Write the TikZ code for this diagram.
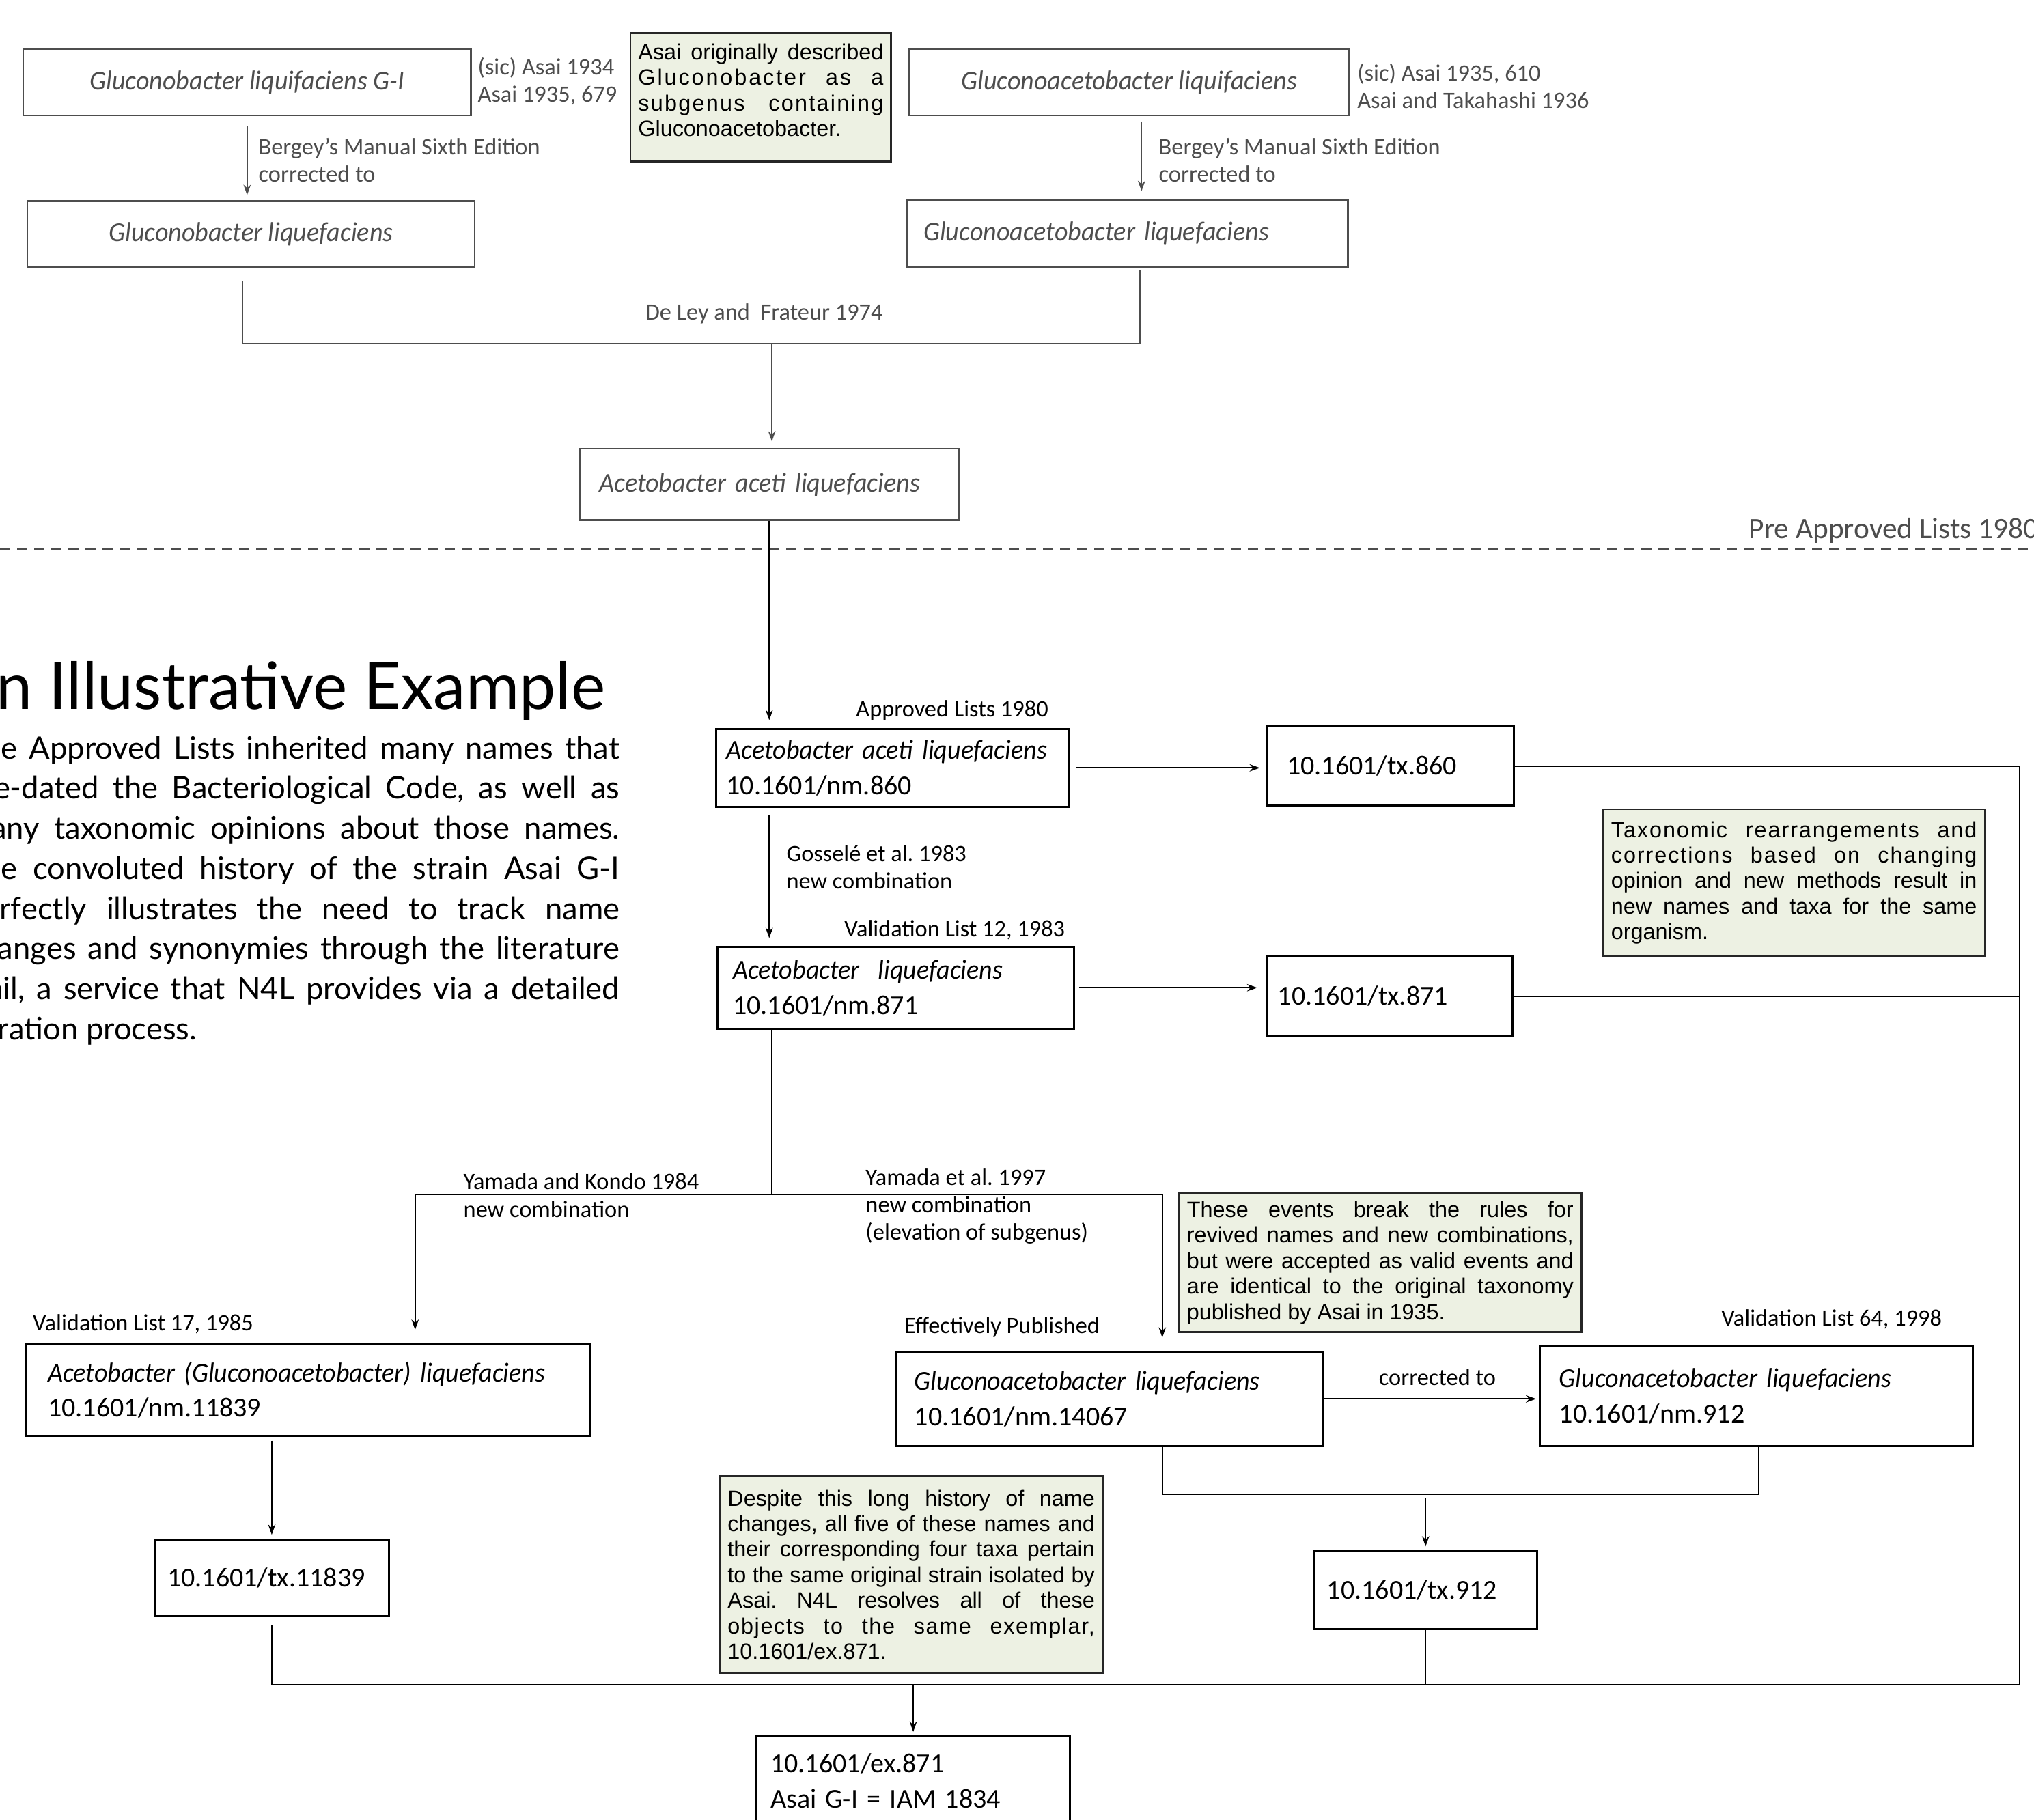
\documentclass[tikz,border=0pt]{standalone}
\usepackage{fontspec}
\setmainfont{Carlito}[ItalicFeatures={FakeStretch=0.95}]
\newfontfamily\parafont{Lato}
\newfontfamily\notefont{Liberation Sans}
\usetikzlibrary{arrows.meta, positioning, calc}
\definecolor{oldgray}{HTML}{4D4D4D}
\definecolor{notebg}{HTML}{EDF1E3}
\frenchspacing
\newcommand{\spread}[2]{{\addfontfeature{LetterSpace=#1}#2}}
\tikzset{
  oldbox/.style={draw=oldgray, line width=0.75pt, text=oldgray, inner sep=0pt,
    font=\fontsize{12}{15.4}\selectfont\itshape},
  nmbox/.style={draw=black, line width=0.9pt, inner ysep=0pt, align=left,
    font=\fontsize{12}{15.4}\selectfont},
  notebox/.style={draw=black!85, fill=notebg, line width=0.8pt, inner ysep=0pt,
    inner xsep=1.2mm, align=justify, font=\notefont\fontsize{9.7}{11.2}\selectfont},
  lbl/.style={inner sep=0pt, align=left, font=\fontsize{10.3}{12}\selectfont},
  oldlbl/.style={lbl, text=oldgray},
  link/.style={line width=0.6pt},
}

\begin{document}
\begin{tikzpicture}[>={Stealth[length=4.5pt, width=3.2pt]}, x=0.2mm, y=-0.2mm]
    \path[fill=white, use as bounding box] (0,0) rectangle (1568,1403);
    \node[oldbox, minimum width=69mm, minimum height=10.2mm] (gA) at (190.5,63.5)
      {Gluconobacter liquifaciens G-I};
    \node[oldbox, minimum width=67.8mm, minimum height=10.2mm] (gB) at (870.5,63.5)
      {Gluconoacetobacter liquifaciens};
    \node[oldbox, minimum width=69mm, minimum height=10.2mm] (gC) at (193.5,180.5)
      {Gluconobacter liquefaciens};
    \node[oldbox, align=left, text width=62.8mm, inner xsep=2.6mm, minimum height=10.4mm]
      (gD) at (869,180) {Gluconoacetobacter liquefaciens};
    \node[oldbox, align=left, text width=52.4mm, inner xsep=3mm, minimum height=11mm]
      (gE) at (593,373.5) {Acetobacter aceti liquefaciens};
    \node[oldlbl, anchor=west] (sicA) at (368,62.5) {(sic) Asai 1934\\Asai 1935, 679};
    \node[oldlbl, anchor=west] (sicB) at (1046,66.5) {(sic) Asai 1935, 610\\Asai and Takahashi 1936};
    \node[oldlbl, anchor=west] (bergA) at (199,123.5) {Bergey's Manual Sixth Edition\\corrected to};
    \node[oldlbl, anchor=west] (bergB) at (893,123.5) {Bergey's Manual Sixth Edition\\corrected to};
    \node[oldlbl] (deley) at (589,242) {De Ley and~ Frateur 1974};
    \node[notebox, text width=37.8mm, inner ysep=1.6mm, text depth=40pt, anchor=north]
      (noteA) at (586.5,25)
      {Asai originally described\linebreak \spread{9}{Gluconobacter as a}\linebreak
       \spread{7}{subgenus containing}\linebreak Gluconoacetobacter.};
    \coordinate (arB) at ([xshift=1.9mm]gB.south);
    \draw[->, link, oldgray, shorten <=1.6mm, shorten >=0.8mm] (gA.south) -- (gA.south |- gC.north);
    \draw[->, link, oldgray, shorten <=0.8mm, shorten >=1.2mm] (arB) -- (arB |- gD.north);
    \coordinate (joinA) at (187,265);
    \coordinate (joinB) at (879,265);
    \coordinate (joinE) at (595,265);
    \draw[link, oldgray, shorten <=2mm, shorten >=0.4mm]
      (gC.south -| joinA) -- (joinA) -- (joinB) -- (gD.south -| joinB);
    \draw[->, link, oldgray, shorten >=1mm] (joinE) -- (joinE |- gE.north);

    \coordinate (sepL) at (0,423);
    \coordinate (sepR) at (1568,423);
    \draw[oldgray, line width=1.1pt, dash pattern=on 4.5pt off 3pt] (sepL) -- (sepR);
    \node[oldlbl, font=\fontsize{13}{16}\selectfont, anchor=base west] (pre) at (1348,415)
      {Pre Approved Lists 1980};

    \node[anchor=base east, inner sep=0pt, font=\parafont\fontsize{28.5}{33}\selectfont]
      (title) at (467,547) {An Illustrative Example};
    \node[anchor=base east, inner sep=0pt, text width=100.8mm, align=justify,
      font=\parafont\fontsize{13.6}{17.6}\selectfont] (intro) at (478,585)
      {The Approved Lists inherited many names that\linebreak
       pre-dated the Bacteriological Code, as well as\linebreak
       many taxonomic opinions about those names.\linebreak
       The convoluted history of the strain Asai G-I\linebreak
       perfectly illustrates the need to track name\linebreak
       changes and synonymies through the literature\linebreak
       trail, a service that N4L provides via a detailed\linebreak
       curation process.};

    \node[nmbox, text width=51.2mm, inner xsep=1.6mm, minimum height=12mm] (n860) at (688,592)
      {\textit{Acetobacter aceti liquefaciens}\\10.1601/nm.860};
    \node[nmbox, text width=32mm, inner xsep=3mm, minimum height=12.2mm] (t860) at (1072,590.5)
      {10.1601/tx.860};
    \node[nmbox, text width=50.2mm, inner xsep=2.4mm, minimum height=12.6mm] (n871) at (690.5,761.5)
      {\textit{Acetobacter~ liquefaciens}\\10.1601/nm.871};
    \node[nmbox, text width=34.6mm, inner xsep=1.6mm, minimum height=12.4mm] (t871) at (1071.5,768)
      {10.1601/tx.871};
    \node[nmbox, text width=80.2mm, inner xsep=3.4mm, minimum height=14.2mm] (n11839) at (237.5,1071.5)
      {\textit{Acetobacter (Gluconoacetobacter) liquefaciens}\\10.1601/nm.11839};
    \node[nmbox, text width=32.2mm, inner xsep=2mm, minimum height=11.8mm] (t11839) at (209.5,1216.5)
      {10.1601/tx.11839};
    \node[nmbox, text width=60.2mm, inner xsep=2.8mm, minimum height=14.6mm] (n14067) at (855.5,1078.5)
      {\textit{Gluconoacetobacter liquefaciens}\\10.1601/nm.14067};
    \node[nmbox, text width=60.8mm, inner xsep=3mm, minimum height=15.4mm] (n912) at (1354,1076.5)
      {\textit{Gluconacetobacter liquefaciens}\\10.1601/nm.912};
    \node[nmbox, text width=30.4mm, inner xsep=2mm, minimum height=12mm] (t912) at (1099,1226)
      {10.1601/tx.912};
    \node[nmbox, text width=44mm, inner xsep=2.2mm, minimum height=14mm] (ex871) at (704,1373)
      {10.1601/ex.871\\Asai G-I = IAM 1834};

    \node[notebox, text width=56.4mm, minimum height=22.6mm] (noteB) at (1383,680.5)
      {\spread{6}{Taxonomic rearrangements and}\linebreak \spread{6}{corrections based on changing}\linebreak
       opinion and new methods result in\linebreak new names and taxa for the same\linebreak
       organism.};
    \node[notebox, text width=59.6mm, minimum height=21.4mm] (noteC) at (1064,973.5)
      {These events break the rules for\linebreak revived names and new combinations,\linebreak
       but were accepted as valid events and\linebreak are identical to the original taxonomy\linebreak
       published by Asai in 1935.};
    \node[notebox, text width=56.6mm, minimum height=30.4mm] (noteD) at (702.5,1214)
      {Despite this long history of name\linebreak changes, all five of these names and\linebreak
       their corresponding four taxa pertain\linebreak to the same original strain isolated by\linebreak
       Asai. N4L resolves all of these\linebreak \spread{5}{objects to the same exemplar,}\linebreak
       10.1601/ex.871.};

    \node[lbl] (lblAL) at (734,548) {Approved Lists 1980};
    \node[lbl, anchor=west] (lblGos) at (606,668.5) {Gosselé et al. 1983\\new combination};
    \node[lbl] (lblVL12) at (736,717) {Validation List 12, 1983};
    \node[lbl, anchor=west] (lblYK) at (357,921.5) {Yamada and Kondo 1984\\new combination};
    \node[lbl, anchor=west] (lblYE) at (667,930)
      {Yamada et al. 1997\\new combination\\(elevation of subgenus)};
    \node[lbl, anchor=west] (lblVL17) at (25,1021) {Validation List 17, 1985};
    \node[lbl, anchor=west] (lblEP) at (697,1023) {Effectively Published};
    \node[lbl] (lblVL64) at (1412,1017) {Validation List 64, 1998};
    \node[lbl] (lblCorr) at (1108,1062) {corrected to};

    \draw[->, link, shorten >=1.2mm] (gE.south) -- (gE.south |- n860.north);
    \draw[->, link, shorten <=1mm, shorten >=1mm] (n860.east) -- (n860.east -| t860.west);
    \draw[->, link, shorten <=1.2mm, shorten >=1.2mm] (n860.south -| gE.south) -- (n871.north -| gE.south);
    \draw[->, link, shorten <=0.6mm, shorten >=1.4mm] (n871.east) -- (n871.east -| t871.west);
    \coordinate (busR) at (1557,1299);
    \draw[link, shorten <=1.2mm] (t11839.south) -- (t11839.south |- busR) -- (busR)
      -- (busR |- t860.east) -- (t860.east);
    \foreach \t in {t871} \draw[link] (\t.east) -- (\t.east -| busR);
    \draw[link] (t912.south) -- (t912.south |- busR);
    \draw[->, link, shorten >=0.4mm] (ex871.north |- busR) -- (ex871.north);
    \coordinate (split) at (595,921);
    \coordinate (splitL) at (320,921);
    \coordinate (splitR) at (896,921);
    \draw[link] (n871.south -| split) -- (split);
    \draw[->, link, shorten >=2mm] (split) -- (splitL) -- (splitL |- n11839.north);
    \draw[->, link, shorten >=2mm] (split) -- (splitR) -- (splitR |- n14067.north);
    \draw[->, link, shorten <=0.6mm, shorten >=0.6mm] (t11839.north |- n11839.south) -- (t11839.north);
    \draw[->, link, shorten >=0.4mm] (n14067.east) -- (n14067.east -| n912.west);
    \coordinate (joinL) at (896,1152);
    \coordinate (joinR) at (1356,1152);
    \draw[link] (n14067.south -| joinL) -- (joinL) -- (joinR) -- (n912.south -| joinR);
    \draw[->, link, shorten <=0.6mm, shorten >=0.6mm] (t912.north |- joinL) -- (t912.north);
  \end{tikzpicture}
\end{document}
